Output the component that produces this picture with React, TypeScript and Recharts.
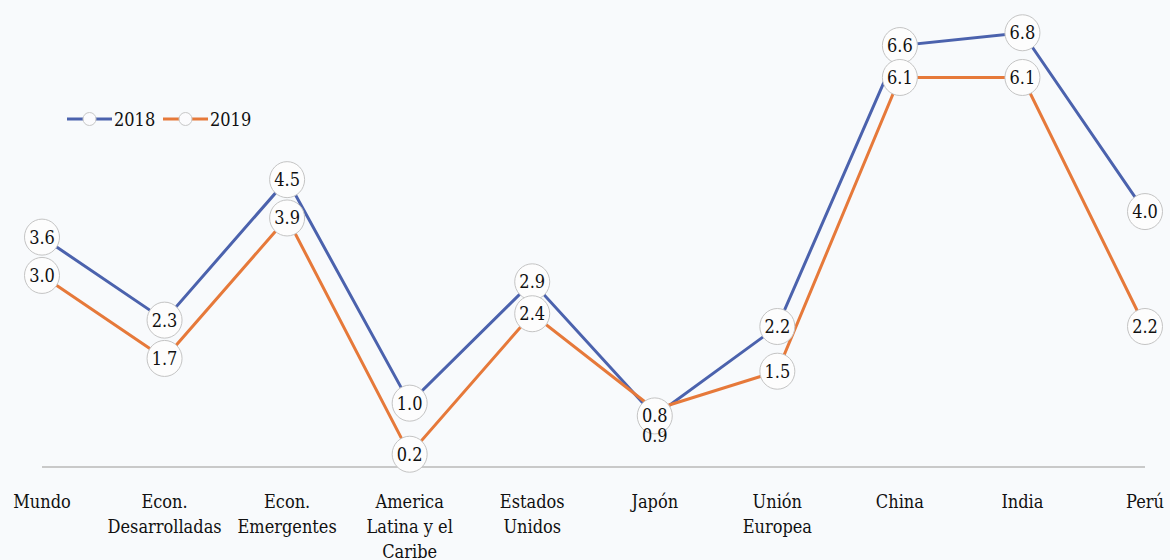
import { LineChart, Line, XAxis, YAxis, LabelList } from 'recharts'

const categories = [
  'Mundo',
  'Econ. Desarrolladas',
  'Econ. Emergentes',
  'America Latina y el Caribe',
  'Estados Unidos',
  'Japón',
  'Unión Europea',
  'China',
  'India',
  'Perú'
]

// how each category label wraps under the axis
const tickLines = [
  ['Mundo'],
  ['Econ.', 'Desarrolladas'],
  ['Econ.', 'Emergentes'],
  ['America', 'Latina y el', 'Caribe'],
  ['Estados', 'Unidos'],
  ['Japón'],
  ['Unión', 'Europea'],
  ['China'],
  ['India'],
  ['Perú']
]

const values2018 = [3.6, 2.3, 4.5, 1.0, 2.9, 0.8, 2.2, 6.6, 6.8, 4.0]
const values2019 = [3.0, 1.7, 3.9, 0.2, 2.4, 0.9, 1.5, 6.1, 6.1, 2.2]

const data = categories.map((name, i) => ({
  name,
  y2018: values2018[i],
  y2019: values2019[i]
}))

const BLUE = '#4b62ad'
const ORANGE = '#e6793a'
const txt = {
  fontFamily: "'DejaVu Serif Condensed', 'DejaVu Serif'",
  fontStretch: 'condensed' as const,
  fontSize: 18,
  fill: '#111'
}

const CircleLabel = (props: any) => {
  const { x, y, value, index, plain } = props
  if (x == null || y == null) return null
  // Japón 2019 is printed under the 2018 bubble without its own circle
  if (plain && index === 5) {
    return (
      <text x={x} y={y + 32} textAnchor="middle" style={txt}>
        {Number(value).toFixed(1)}
      </text>
    )
  }
  return (
    <g>
      <ellipse cx={x} cy={y} rx={17.5} ry={18} fill="#fdfdfd" stroke="#c4c4c4" strokeWidth={1} />
      <text x={x} y={y + 6.5} textAnchor="middle" style={txt}>
        {Number(value).toFixed(1)}
      </text>
    </g>
  )
}

const Tick = (props: any) => {
  const { x, y, payload } = props
  const lines = tickLines[payload.index] || [payload.value]
  return (
    <text x={x} y={y} textAnchor="middle" style={txt}>
      {lines.map((l, i) => (
        <tspan key={i} x={x} dy={i === 0 ? 33 : 25}>
          {l}
        </tspan>
      ))}
    </text>
  )
}

const legendItems = [
  { c: BLUE, t: '2018', x: 0 },
  { c: ORANGE, t: '2019', x: 96 }
]

export default function App() {
  return (
    <div style={{ position: 'fixed', left: 0, top: 0, width: 1170, height: 560, background: '#f8fafc' }}>
      <LineChart width={1170} height={560} data={data} margin={{ top: 20, right: 25, bottom: 3, left: 42 }}>
        <XAxis
          dataKey="name"
          height={90}
          axisLine={{ stroke: '#c9c9c9', strokeWidth: 2 }}
          tickLine={false}
          tick={<Tick />}
          interval={0}
        />
        <YAxis hide domain={[0, 7]} />
        <Line type="linear" dataKey="y2018" stroke={BLUE} strokeWidth={3} dot={false} isAnimationActive={false} />
        <Line type="linear" dataKey="y2019" stroke={ORANGE} strokeWidth={3} dot={false} isAnimationActive={false} />
        <Line type="linear" dataKey="y2018" stroke="none" dot={false} legendType="none" isAnimationActive={false}>
          <LabelList dataKey="y2018" content={<CircleLabel />} />
        </Line>
        <Line type="linear" dataKey="y2019" stroke="none" dot={false} legendType="none" isAnimationActive={false}>
          <LabelList dataKey="y2019" content={<CircleLabel plain />} />
        </Line>
      </LineChart>
      <svg width={220} height={24} style={{ position: 'absolute', left: 67, top: 107 }}>
        {legendItems.map((it) => (
          <g key={it.t}>
            <line x1={it.x} y1={12} x2={it.x + 45} y2={12} stroke={it.c} strokeWidth={3} />
            <circle cx={it.x + 22.5} cy={12} r={6.5} fill="#fbfbfd" stroke="#c8c8c8" />
            <text x={it.x + 47} y={18.5} style={txt}>
              {it.t}
            </text>
          </g>
        ))}
      </svg>
    </div>
  )
}
